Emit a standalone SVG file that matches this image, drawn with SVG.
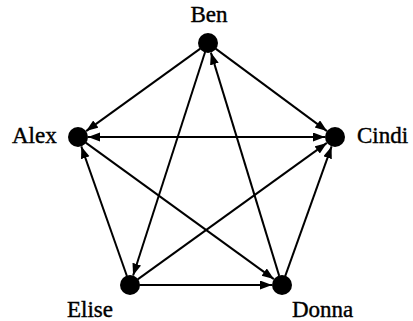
<svg xmlns="http://www.w3.org/2000/svg" width="413" height="321" viewBox="0 0 413 321">
<style>
.n{fill:#000}
.e{stroke:#000;stroke-width:2;fill:none;marker-end:url(#ah)}
.t{font-family:"Liberation Serif","Times New Roman",serif;font-size:23px;fill:#000;stroke:#000;stroke-width:0.4}
</style>
<defs>
<marker id="ah" markerUnits="userSpaceOnUse" markerWidth="13" markerHeight="10" refX="12" refY="4.5" orient="auto-start-reverse"><path d="M0,0 L12,4.5 L0,9 z" fill="#000"/></marker>
</defs>
<rect width="413" height="321" fill="#fff"/>
<g id="connectors">
<line class="e" x1="200.3" y1="48.6" x2="86.1" y2="131.1"/>
<line class="e" x1="215.6" y1="48.6" x2="327" y2="131.1"/>
<line class="e" x1="325" y1="137" x2="88" y2="137" style="marker-start:url(#ah)"/>
<line class="e" x1="205.1" y1="52" x2="133.1" y2="275.5"/>
<line class="e" x1="279.2" y1="275.9" x2="210.9" y2="52.6"/>
<line class="e" x1="126.9" y1="276" x2="81.3" y2="146.4"/>
<line class="e" x1="85.7" y1="142.6" x2="273.9" y2="279.1"/>
<line class="e" x1="137.7" y1="279.4" x2="326.9" y2="142.9"/>
<line class="e" x1="285.2" y1="276.1" x2="331.6" y2="146.4"/>
<line class="e" x1="139.5" y1="285" x2="272" y2="285"/>
</g>
<g id="ben"><circle class="n" cx="208" cy="43" r="10"/><text class="t" x="209" y="22" text-anchor="middle">Ben</text></g>
<g id="alex"><circle class="n" cx="78" cy="137" r="10"/><text class="t" x="12" y="143">Alex</text></g>
<g id="cindi"><circle class="n" cx="335" cy="137" r="10"/><text class="t" x="357" y="143">Cindi</text></g>
<g id="elise"><circle class="n" cx="130" cy="285" r="10"/><text class="t" x="67" y="317">Elise</text></g>
<g id="donna"><circle class="n" cx="282" cy="285" r="10"/><text class="t" x="292" y="317">Donna</text></g>
</svg>
